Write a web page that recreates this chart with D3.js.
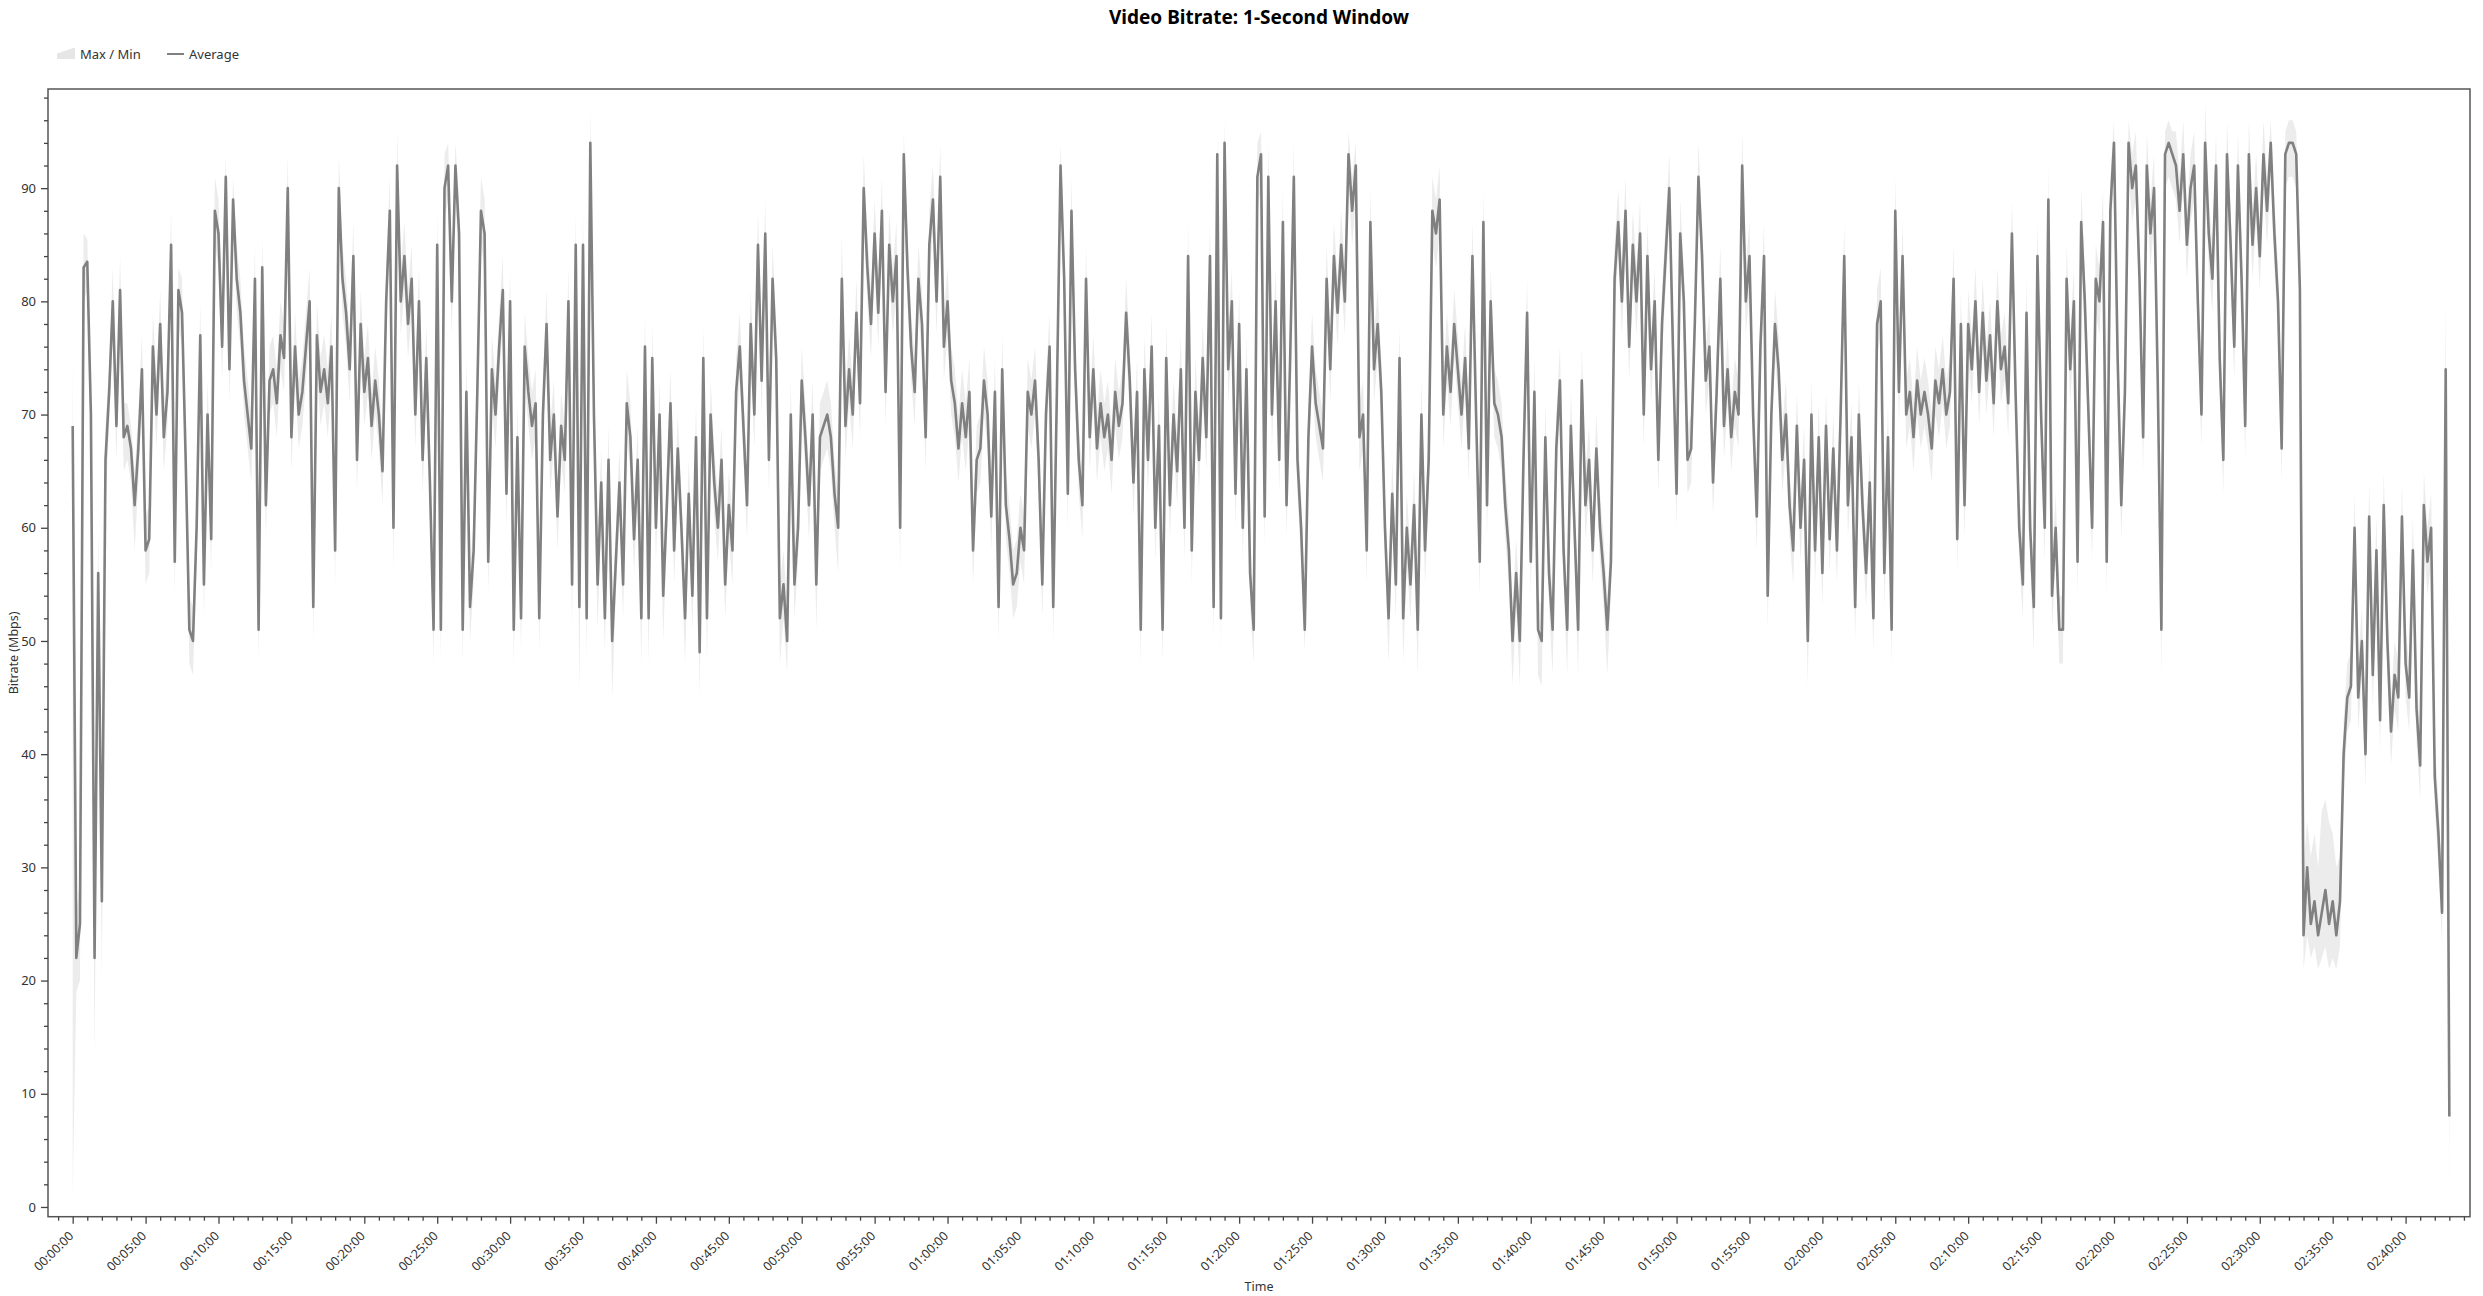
<!DOCTYPE html>
<html><head><meta charset="utf-8">
<script src="https://cdn.jsdelivr.net/npm/d3@7"></script>
<style>
html,body{margin:0;padding:0;background:#fff;}
svg{display:block;font-family:"Noto Sans",sans-serif;}
</style></head><body>
<svg id="chart" width="2483" height="1296"></svg>
<script>
const chartTitle = "Video Bitrate: 1-Second Window";
const xAxisTitle = "Time";
const yAxisTitle = "Bitrate (Mbps)";
const legendLabels = ["Max / Min", "Average"];
const sampleStepSeconds = 15;

const avgMbps = [
69,22,25,83,83.5,70,22,56,27,66,
72,80,69,81,68,69,67,62,67,74,
58,59,76,70,78,68,72,85,57,81,
79,66,51,50,60,77,55,70,59,88,
86,76,91,74,89,82,79,73,70,67,
82,51,83,62,73,74,71,77,75,90,
68,76,70,72,76,80,53,77,72,74,
71,76,58,90,82,79,74,84,66,78,
72,75,69,73,70,65,80,88,60,92,
80,84,78,82,70,80,66,75,64,51,
85,51,90,92,80,92,86,51,72,53,
58,72,88,86,57,74,70,76,81,63,
80,51,68,52,76,72,69,71,52,70,
78,66,70,61,69,66,80,55,85,53,
85,52,94,70,55,64,52,66,50,57,
64,55,71,68,59,66,52,76,52,75,
60,70,54,62,71,58,67,60,52,63,
54,68,49,75,52,70,64,60,66,55,
62,58,72,76,69,62,78,70,85,73,
86,66,82,75,52,55,50,70,55,60,
73,68,62,70,55,68,69,70,68,63,
60,82,69,74,70,79,71,90,83,78,
86,79,88,72,85,80,84,60,93,83,
76,72,82,78,68,85,89,80,91,76,
80,73,71,67,71,68,72,58,66,67,
73,70,61,72,53,74,62,59,55,56,
60,58,72,70,73,66,55,70,76,53,
72,92,82,63,88,74,66,62,82,68,
74,67,71,68,70,66,72,69,71,79,
73,64,72,51,74,66,76,60,69,51,
75,62,70,65,74,60,84,58,72,66,
75,68,84,53,93,52,94,74,80,63,
78,60,74,56,51,91,93,61,91,70,
80,66,87,62,75,91,66,60,51,68,
76,71,69,67,82,74,84,79,85,80,
93,88,92,68,70,58,87,74,78,72,
60,52,63,55,75,52,60,55,62,51,
70,58,66,88,86,89,70,76,72,78,
74,70,75,67,84,70,57,87,62,80,
71,70,68,62,58,50,56,50,66,79,
57,72,51,50,68,56,51,67,73,58,
51,69,60,51,73,62,66,58,67,60,
56,51,57,82,87,80,88,76,85,80,
86,70,84,74,80,66,78,84,90,76,
63,86,80,66,67,78,91,84,73,76,
64,72,82,69,74,68,72,70,92,80,
84,70,61,76,84,54,70,78,74,66,
70,62,58,69,60,66,50,70,58,68,
56,69,59,67,58,70,84,62,68,53,
70,62,56,64,52,78,80,56,68,51,
88,72,84,70,72,68,73,70,72,70,
67,73,71,74,70,72,82,59,78,62,
78,74,80,72,79,73,77,71,80,74,
76,71,86,72,60,55,79,60,53,84,
70,60,89,54,60,51,51,82,74,80,
57,87,80,70,60,82,80,87,57,88,
94,75,62,72,94,90,92,82,68,92,
86,90,73,51,93,94,93,92,88,93,
85,90,92,80,70,94,86,82,92,75,
66,93,85,76,92,82,69,93,85,90,
84,93,88,94,86,80,67,93,94,94,
93,81,24,30,25,27,24,26,28,25,
27,24,27,40,45,46,60,45,50,40,
61,47,58,43,62,50,42,47,45,61,
48,45,58,44,39,62,57,60,38,33,
26,74,8
];

const maxMbps = [
75,26,29,86,85.5,73,25,60,31,69,
74,83,71,84,71,71,69,65,70,77,
61,62,79,73,81,71,75,88,60,83,
82,69,54,53,63,80,58,73,62,91,
89,79,93,77,91,85,82,76,73,70,
85,54,86,65,76,77,74,80,78,93,
71,79,73,75,79,83,56,80,75,77,
74,79,61,93,85,82,77,87,69,81,
75,78,72,76,73,68,83,91,63,95,
83,87,81,85,73,83,69,78,67,54,
88,54,93,94,83,94,89,54,75,56,
61,75,91,89,60,77,73,79,84,66,
83,54,71,55,79,75,72,74,55,73,
81,69,73,64,72,69,83,58,88,56,
88,55,97,73,58,67,55,69,53,60,
67,58,74,71,62,69,55,79,55,78,
63,73,57,65,74,61,70,63,55,66,
57,71,52,78,55,73,67,63,69,58,
65,61,75,79,72,65,81,73,88,76,
89,69,85,78,55,58,53,73,58,63,
76,71,65,73,58,71,72,73,71,66,
63,86,72,77,73,82,74,93,86,81,
89,82,91,75,88,83,87,63,95,86,
79,75,85,81,71,88,92,83,94,79,
83,76,74,70,74,71,75,61,69,70,
76,73,64,75,56,77,65,62,58,59,
63,61,75,73,76,69,58,73,79,56,
75,94,85,66,91,77,69,65,85,71,
77,70,74,71,73,69,75,72,74,82,
76,67,75,54,77,69,79,63,72,54,
78,65,73,68,77,63,87,61,75,69,
78,71,87,56,95,55,96,77,83,66,
81,63,77,59,54,94,95,64,94,73,
83,69,90,65,78,94,69,63,54,71,
79,74,72,70,85,77,87,82,88,83,
95,91,94,71,73,61,90,77,81,75,
63,55,66,58,78,55,63,58,65,54,
73,61,69,91,89,92,73,79,75,81,
77,73,78,70,87,73,60,90,65,83,
74,73,71,65,61,53,59,53,69,82,
60,75,54,53,71,59,54,70,76,61,
54,72,63,54,76,65,69,61,70,63,
59,54,60,85,90,83,91,79,88,83,
89,73,87,77,83,69,81,87,93,79,
66,89,83,69,70,81,94,87,76,79,
67,75,85,72,77,71,75,73,95,83,
87,73,64,79,87,57,73,81,77,69,
73,65,61,72,63,69,53,73,61,71,
59,72,62,70,61,73,87,65,71,56,
73,65,59,67,55,81,83,59,71,54,
91,75,87,73,75,71,76,73,75,73,
70,76,74,77,73,75,85,62,81,65,
81,77,83,75,82,76,80,74,83,77,
79,74,89,75,63,58,82,63,56,87,
73,63,92,57,63,54,54,85,77,83,
60,90,83,73,63,85,83,90,60,91,
96,78,65,75,96,93,95,85,71,95,
89,93,76,54,95,96,95,95,91,96,
88,93,95,83,73,97.5,89,85,95,78,
69,96,88,79,95,85,72,96,88,93,
87,96,91,96,89,83,70,95,96,96,
95,84,30,34,31,33,30,35,36,34,
33,30,31,43,48,49,63,48,53,43,
64,50,61,46,65,53,45,50,48,64,
51,48,61,47,42,65,60,63,41,36,
29,80,10
];

const minMbps = [
1,19,20,80,81,66,13,52,20,62,
69,77,66,78,65,66,64,58,64,71,
55,56,73,67,75,65,69,82,54,78,
76,63,48,47,57,74,52,67,56,85,
83,73,88,71,86,79,76,70,67,64,
79,48,80,59,70,71,68,74,72,87,
65,73,67,69,73,77,50,74,69,71,
68,73,55,87,79,76,71,81,63,75,
69,72,66,70,67,62,77,85,56,89,
77,81,75,79,67,77,63,72,61,48,
82,48,87,89,77,89,83,48,69,50,
55,69,85,83,54,71,67,73,78,60,
77,48,65,49,73,69,66,68,49,67,
75,63,67,58,66,63,77,51,82,45,
82,48,91,67,51,61,49,63,45,54,
61,52,68,65,56,63,48,73,48,72,
57,67,50,59,68,55,64,57,48,60,
51,65,45,72,48,67,61,57,63,52,
59,55,69,73,66,59,75,67,82,70,
83,63,79,72,48,52,47,67,52,57,
70,65,59,67,51,65,66,67,65,60,
56,79,66,71,67,76,68,87,80,75,
83,76,85,69,82,77,81,56,90,80,
73,69,79,75,65,82,86,77,88,73,
77,70,68,64,68,65,69,55,63,64,
70,67,58,69,50,71,59,56,52,53,
57,55,69,67,70,63,52,67,73,50,
69,89,79,60,85,71,63,59,79,65,
71,64,68,65,67,63,69,66,68,76,
70,61,69,48,71,63,73,57,66,48,
72,59,67,62,71,57,81,55,69,63,
72,65,81,50,90,49,91,71,77,60,
75,57,71,53,48,88,90,58,88,67,
77,63,84,59,72,88,63,57,49,65,
73,68,66,64,79,71,81,76,82,77,
90,85,89,65,67,55,84,71,75,69,
57,48,60,52,72,48,57,52,59,47,
67,55,63,85,83,86,67,73,69,75,
71,67,72,64,81,67,54,84,59,77,
68,67,65,59,55,46,53,46,63,76,
54,69,47,46,65,53,47,64,70,55,
47,66,57,47,70,59,63,55,64,57,
53,47,54,79,84,77,85,73,82,77,
83,67,81,71,77,63,75,81,87,73,
60,83,77,63,64,75,88,81,70,73,
61,69,79,66,71,65,69,67,89,77,
81,67,58,73,81,51,67,75,71,63,
67,59,55,66,57,63,46,67,55,65,
53,66,56,64,55,67,81,59,65,50,
67,59,53,61,49,75,77,53,65,48,
85,69,81,67,69,65,70,67,69,67,
64,70,68,71,67,69,79,56,75,59,
75,71,77,69,76,70,74,68,77,71,
73,68,83,69,57,52,76,57,49,81,
67,57,86,51,57,48,48,79,71,77,
54,84,77,67,57,79,77,84,54,85,
91,72,59,69,91,87,89,79,65,89,
83,87,70,47,90,91,90,89,85,90,
82,87,89,77,67,91,83,79,89,72,
63,90,82,73,89,79,66,90,82,87,
81,90,85,91,83,77,64,90,91,91,
90,78,21,24,22,23,21,22,23,21,
22,21,23,37,42,43,57,42,47,37,
58,44,55,40,59,47,39,44,42,58,
45,42,55,41,36,59,54,57,35,30,
23,70,1
];

const yTickValues = [0,10,20,30,40,50,60,70,80,90];
const xTickLabels = ["00:00:00","00:05:00","00:10:00","00:15:00","00:20:00","00:25:00","00:30:00","00:35:00","00:40:00","00:45:00","00:50:00","00:55:00","01:00:00","01:05:00","01:10:00","01:15:00","01:20:00","01:25:00","01:30:00","01:35:00","01:40:00","01:45:00","01:50:00","01:55:00","02:00:00","02:05:00","02:10:00","02:15:00","02:20:00","02:25:00","02:30:00","02:35:00","02:40:00"];

// ---------- layout ----------
const plot = {left: 48, right: 2470, top: 89, bottom: 1216.7};
const svg = d3.select("#chart");

const toSec = s => { const p = s.split(":").map(Number); return p[0]*3600 + p[1]*60 + p[2]; };
const fmt = s => { const h = Math.floor(s/3600), m = Math.floor((s%3600)/60), sec = s%60;
  return [h,m,sec].map(v => String(v).padStart(2,"0")).join(":"); };

const x = d3.scaleLinear().domain([-101.6, 9865]).range([plot.left, plot.right]);
const y = d3.scaleLinear().domain([-0.86, 98.76]).range([plot.bottom, plot.top]);

const data = avgMbps.map((v, i) => ({t: i*sampleStepSeconds, avg: v, max: maxMbps[i], min: minMbps[i]}));

svg.append("defs").append("clipPath").attr("id","clip")
  .append("rect").attr("x",plot.left).attr("y",plot.top)
  .attr("width",plot.right-plot.left).attr("height",plot.bottom-plot.top);

const g = svg.append("g").attr("clip-path","url(#clip)");

g.append("path").datum(data)
  .attr("fill","#ececec")
  .attr("d", d3.area().x(d => x(d.t)).y0(d => y(d.min)).y1(d => y(d.max)));

g.append("path").datum(data)
  .attr("fill","none").attr("stroke","#808080").attr("stroke-width",2.6)
  .attr("stroke-linejoin","round")
  .attr("d", d3.line().x(d => x(d.t)).y(d => y(d.avg)));

// frame
svg.append("rect").attr("x",plot.left).attr("y",plot.top)
  .attr("width",plot.right-plot.left).attr("height",plot.bottom-plot.top)
  .attr("fill","none").attr("stroke","#555").attr("stroke-width",1.5);

// x axis
const majorSecs = xTickLabels.map(toSec);
const minorSecs = d3.range(-60, 9900, 60).filter(s => s % 300 !== 0 && x(s) <= plot.right);
const xMinor = svg.append("g").attr("transform",`translate(0,${plot.bottom})`)
  .call(d3.axisBottom(x).tickValues(minorSecs).tickSize(4).tickFormat(""));
const xMajor = svg.append("g").attr("transform",`translate(0,${plot.bottom})`)
  .call(d3.axisBottom(x).tickValues(majorSecs).tickSize(7).tickFormat(fmt));
[xMinor, xMajor].forEach(a => { a.select(".domain").remove(); a.selectAll("line").attr("stroke","#444").attr("stroke-width",1.3); });
xMajor.selectAll("text")
  .attr("fill","#333").attr("font-size","12.5px").attr("font-family","Noto Sans")
  .attr("text-anchor","end").attr("dy","0.35em").attr("y",0)
  .attr("transform", d => `translate(-2,17) rotate(-45)`);

// y axis
const yMinor = svg.append("g").attr("transform",`translate(${plot.left},0)`)
  .call(d3.axisLeft(y).tickValues(d3.range(2, 99, 2).filter(v => v % 10 !== 0)).tickSize(4).tickFormat(""));
const yMajor = svg.append("g").attr("transform",`translate(${plot.left},0)`)
  .call(d3.axisLeft(y).tickValues(yTickValues).tickSize(7).tickPadding(5));
[yMinor, yMajor].forEach(a => { a.select(".domain").remove(); a.selectAll("line").attr("stroke","#444").attr("stroke-width",1.3); });
yMajor.selectAll("text").attr("fill","#333").attr("font-size","13px").attr("font-family","Noto Sans");

// titles
svg.append("text").attr("x",(plot.left+plot.right)/2).attr("y",24)
  .attr("text-anchor","middle").attr("font-weight","bold").attr("font-size","19px")
  .attr("fill","#000").text(chartTitle);
svg.append("text").attr("x",(plot.left+plot.right)/2).attr("y",1291)
  .attr("text-anchor","middle").attr("font-size","12.5px").attr("fill","#333").text(xAxisTitle);
svg.append("text").attr("transform",`translate(18,${(plot.top+plot.bottom)/2}) rotate(-90)`)
  .attr("text-anchor","middle").attr("font-size","12.5px").attr("fill","#333").text(yAxisTitle);

// legend
const lg = svg.append("g");
lg.append("path").attr("d","M57,59L57,53.5L75,47.5L75,59Z").attr("fill","#e6e6e6");
lg.append("text").attr("x",80).attr("y",59).attr("font-size","13px").attr("fill","#333").text(legendLabels[0]);
lg.append("line").attr("x1",167).attr("x2",184).attr("y1",54).attr("y2",54).attr("stroke","#808080").attr("stroke-width",2);
lg.append("text").attr("x",189).attr("y",59).attr("font-size","13px").attr("fill","#333").text(legendLabels[1]);
</script>
</body></html>
